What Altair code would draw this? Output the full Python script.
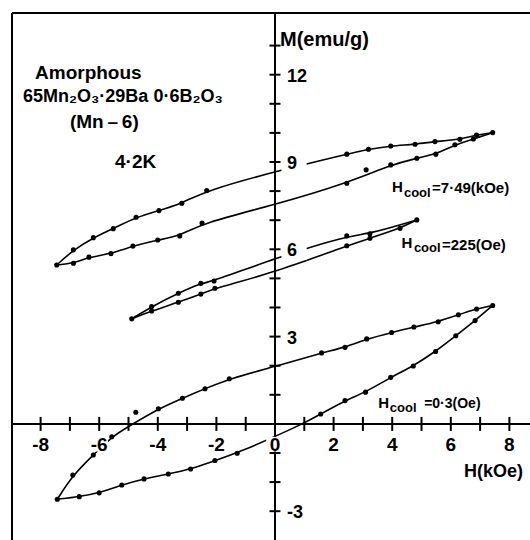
import altair as alt
import pandas as pd

# ---------------- data ----------------
# kind: "p" = measured point on the drawn curve, "k" = curve knot only, "o" = measured point off the curve
# Loop for H_cool = 7.49 kOe
A_up_H = [-7.45, -6.88, -6.20, -5.52, -4.74, -3.96, -3.18, -2.33, 0.00, 2.45, 3.19, 3.95, 4.78, 5.46, 6.31, 6.88, 7.43]
A_up_M = [5.46, 5.98, 6.40, 6.71, 7.10, 7.33, 7.58, 8.02, 8.67, 9.27, 9.44, 9.55, 9.61, 9.70, 9.78, 9.93, 10.01]
A_up_K = ["p", "p", "p", "p", "p", "p", "p", "p", "k", "p", "p", "p", "p", "p", "p", "p", "p"]
A_lo_H = [-7.45, -6.88, -6.35, -5.60, -4.85, -4.00, -3.25, -2.49, 0.00, 2.45, 3.11, 3.95, 4.84, 5.49, 6.14, 6.77, 7.43]
A_lo_M = [5.46, 5.52, 5.73, 5.85, 6.11, 6.32, 6.46, 6.90, 7.53, 8.27, 8.73, 8.90, 9.13, 9.27, 9.59, 9.79, 10.01]
A_lo_K = ["k", "p", "p", "p", "p", "p", "p", "p", "k", "p", "o", "p", "p", "p", "p", "p", "k"]

# Loop for H_cool = 225 Oe
B_up_H = [-4.89, -4.21, -3.30, -2.53, -2.08, 0.00, 2.45, 3.24, 4.84]
B_up_M = [3.61, 4.03, 4.49, 4.83, 4.91, 5.69, 6.46, 6.53, 7.01]
B_up_K = ["p", "p", "p", "p", "p", "k", "p", "p", "p"]
B_lo_H = [-4.89, -4.21, -3.30, -2.53, -2.05, 0.00, 2.45, 3.24, 4.27, 4.84]
B_lo_M = [3.61, 3.88, 4.18, 4.46, 4.66, 5.21, 6.12, 6.38, 6.72, 7.01]
B_lo_K = ["k", "p", "p", "p", "p", "k", "p", "p", "p", "k"]

# Loop for H_cool = 0.3 Oe
C_up_H = [-7.43, -6.90, -6.20, -5.57, -5.00, -4.75, -3.98, -3.16, -2.39, -1.56, 0.00, 1.59, 2.39, 3.13, 3.98, 4.74, 5.57, 6.26, 6.88, 7.43]
C_up_M = [-2.59, -1.76, -1.07, -0.44, -0.09, 0.40, 0.52, 0.88, 1.21, 1.55, 1.97, 2.44, 2.63, 2.92, 3.14, 3.33, 3.51, 3.75, 3.95, 4.07]
C_up_K = ["p", "p", "p", "p", "k", "o", "p", "p", "p", "p", "k", "p", "p", "p", "p", "p", "p", "p", "p", "p"]
C_lo_H = [-7.43, -6.68, -6.00, -5.23, -4.47, -3.64, -2.88, -2.05, -1.29, 0.97, 1.56, 2.39, 3.09, 3.95, 4.72, 5.48, 6.17, 6.83, 7.43]
C_lo_M = [-2.59, -2.50, -2.37, -2.10, -1.89, -1.72, -1.55, -1.26, -1.01, 0.00, 0.34, 0.80, 1.09, 1.60, 1.99, 2.49, 3.03, 3.55, 4.07]
C_lo_K = ["k", "p", "p", "p", "p", "p", "p", "p", "p", "k", "p", "p", "p", "p", "p", "p", "p", "p", "k"]

# axes
x_ticks = [-8, -7, -6, -5, -4, -3, -2, -1, 1, 2, 3, 4, 5, 6, 7, 8]
x_labels = [-8, -6, -4, -2, 0, 2, 4, 6, 8]
y_ticks = [-3, -2, -1, 1, 2, 3, 4, 5, 6, 7, 8, 9, 10, 11, 12, 13]
y_labels = [-3, 3, 6, 9, 12]

# annotations (main text block and axis titles)
ann_text = ["Amorphous", "65Mn\u2082O\u2083\u00b729Ba 0\u00b76B\u2082O\u2083", "(Mn\u2009\u2013\u20096)", "4\u00b72K",
            "M(emu/g)", "H(kOe)"]
ann_H = [-8.19, -8.60, -7.00, -5.46, 0.17, 6.45]
ann_M = [12.06, 11.24, 10.38, 9.00, 13.20, -1.65]
ann_S = [19, 18, 19, 19, 20, 18]

# curve labels: "H", subscript "cool", value
cool_text = ["H", "cool", "=7\u00b749(kOe)",
             "H", "cool", "=225(Oe)",
             "H", "cool", "=0\u00b73(Oe)"]
cool_H = [3.99, 4.40, 5.36, 4.32, 4.74, 5.70, 3.52, 3.92, 5.09]
cool_M = [8.13, 7.95, 8.11, 6.21, 6.05, 6.16, 0.72, 0.55, 0.69]
cool_S = [15, 13, 15, 15, 13, 15, 15, 13, 14]

# ---------------- layout ----------------
W, H_ = 518, 527
XMIN, XMAX = -8.976, 8.703
YMIN, YMAX = -3.99, 14.12
xs = alt.Scale(domain=[XMIN, XMAX], nice=False, zero=False)
ys = alt.Scale(domain=[YMIN, YMAX], nice=False, zero=False)
FONT = "Liberation Sans"

rows = []
for loop, br, hh, mm, kk in [
    ("A", "up", A_up_H, A_up_M, A_up_K), ("A", "lo", A_lo_H, A_lo_M, A_lo_K),
    ("B", "up", B_up_H, B_up_M, B_up_K), ("B", "lo", B_lo_H, B_lo_M, B_lo_K),
    ("C", "up", C_up_H, C_up_M, C_up_K), ("C", "lo", C_lo_H, C_lo_M, C_lo_K)]:
    for h, m, k in zip(hh, mm, kk):
        rows.append({"H": h, "M": m, "kind": k, "series": loop + br})
df = pd.DataFrame(rows)

X = alt.X("H:Q", scale=xs, axis=None)
Y = alt.Y("M:Q", scale=ys, axis=None)

lines = alt.Chart(df).transform_filter("datum.kind != 'o'").mark_line(
    interpolate="basis", color="black", strokeWidth=1.6
).encode(x=X, y=Y, detail="series:N", order="H:Q")

points = alt.Chart(df).transform_filter("datum.kind != 'k'").mark_circle(
    size=26, color="black", opacity=1
).encode(x=X, y=Y)

# axis lines and frame
seg = pd.DataFrame([
    {"x": XMIN, "x2": XMAX, "y": 0, "y2": 0},
    {"x": 0, "x2": 0, "y": YMIN, "y2": YMAX},
    {"x": XMIN, "x2": XMAX, "y": YMAX, "y2": YMAX},
    {"x": XMIN, "x2": XMIN, "y": YMIN, "y2": YMAX},
])
TX = 7 / 29.1
TY = 5.5 / 29.3
tick_rows = [{"x": v, "x2": v, "y": -TX, "y2": TX} for v in x_ticks] + \
            [{"x": -TY, "x2": TY, "y": v, "y2": v} for v in y_ticks]
segs = pd.concat([seg, pd.DataFrame(tick_rows)], ignore_index=True)
rules = alt.Chart(segs).mark_rule(color="black", strokeWidth=2).encode(
    x=alt.X("x:Q", scale=xs, axis=None), x2="x2:Q",
    y=alt.Y("y:Q", scale=ys, axis=None), y2="y2:Q")

# white masks behind tick labels (labels interrupt curves in the original)
mask_rows = [{"x": v - 0.3, "x2": v + 0.3, "y": -0.95, "y2": -0.45} for v in x_labels] + \
            [{"x": 0.22, "x2": 1.08, "y": v - 0.37, "y2": v + 0.23} for v in y_labels]
masks = alt.Chart(pd.DataFrame(mask_rows)).mark_rect(color="white", opacity=1).encode(
    x=alt.X("x:Q", scale=xs, axis=None), x2="x2:Q",
    y=alt.Y("y:Q", scale=ys, axis=None), y2="y2:Q")

xl = pd.DataFrame({"x": x_labels, "y": [-0.72] * len(x_labels),
                   "t": [str(v) for v in x_labels]})
xlab = alt.Chart(xl).mark_text(font=FONT, fontWeight="bold", fontSize=19,
                               align="center", baseline="middle", color="black").encode(
    x=alt.X("x:Q", scale=xs, axis=None), y=alt.Y("y:Q", scale=ys, axis=None), text="t:N")

yl = pd.DataFrame({"x": [0.41] * len(y_labels), "y": [v - 0.07 for v in y_labels],
                   "t": [str(v) for v in y_labels]})
ylab = alt.Chart(yl).mark_text(font=FONT, fontWeight="bold", fontSize=18,
                               align="left", baseline="middle", color="black").encode(
    x=alt.X("x:Q", scale=xs, axis=None), y=alt.Y("y:Q", scale=ys, axis=None), text="t:N")

ann = pd.DataFrame({"x": ann_H, "y": ann_M, "t": ann_text, "s": ann_S})
annt = alt.Chart(ann).mark_text(
    font=FONT, fontWeight="bold", align="left", baseline="middle", color="black").encode(
    x=alt.X("x:Q", scale=xs, axis=None), y=alt.Y("y:Q", scale=ys, axis=None),
    text="t:N", size=alt.Size("s:Q", scale=None, legend=None))

cool = pd.DataFrame({"x": cool_H, "y": cool_M, "t": cool_text, "s": cool_S})
coolt = alt.Chart(cool).mark_text(font=FONT, fontWeight="bold", align="left",
                                  baseline="middle", color="black").encode(
    x=alt.X("x:Q", scale=xs, axis=None), y=alt.Y("y:Q", scale=ys, axis=None),
    text="t:N", size=alt.Size("s:Q", scale=None, legend=None))

chart = alt.layer(lines, points, rules, masks, xlab, ylab, annt, coolt).properties(
    width=W, height=H_,
    autosize=alt.AutoSizeParams(type="none"),
    padding={"left": 12, "top": 13, "right": 0, "bottom": 0},
    background="white",
).configure_view(stroke=None)

chart.save("out.html", embed_options={"renderer": "svg", "actions": False})
